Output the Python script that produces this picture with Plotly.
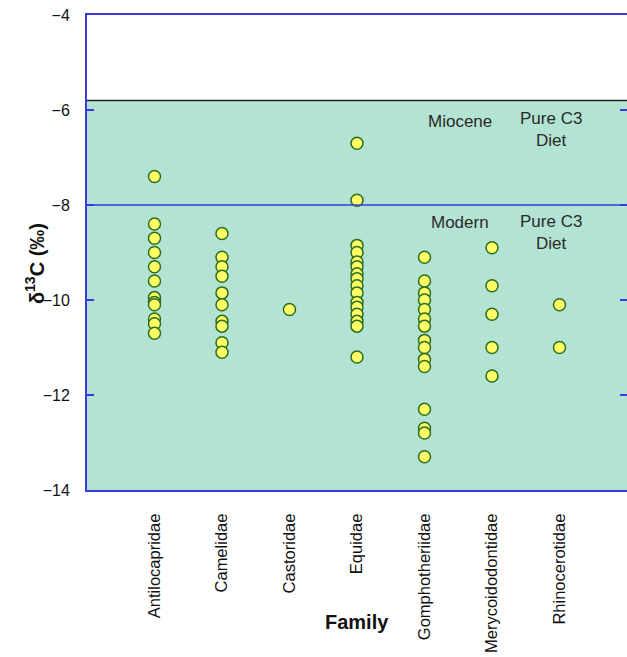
import plotly.graph_objects as go

families = ["Antilocapridae", "Camelidae", "Castoridae", "Equidae",
            "Gomphotheriidae", "Merycoidodontidae", "Rhinocerotidae"]

antilocapridae = [-7.4, -8.4, -8.7, -9.0, -9.3, -9.6, -9.95, -10.05, -10.1, -10.4, -10.5, -10.7]
camelidae = [-8.6, -9.1, -9.3, -9.5, -9.85, -10.1, -10.45, -10.55, -10.9, -11.1]
castoridae = [-10.2]
equidae = [-6.7, -7.9, -8.85, -9.0, -9.2, -9.3, -9.45, -9.55, -9.7, -9.85, -10.05,
           -10.15, -10.3, -10.45, -10.55, -11.2]
gomphotheriidae = [-9.1, -9.6, -9.85, -10.0, -10.2, -10.4, -10.55, -10.85, -11.0,
                   -11.25, -11.4, -12.3, -12.7, -12.8, -13.3]
merycoidodontidae = [-8.9, -9.7, -10.3, -11.0, -11.6]
rhinocerotidae = [-10.1, -11.0]

series = [antilocapridae, camelidae, castoridae, equidae,
          gomphotheriidae, merycoidodontidae, rhinocerotidae]

miocene_limit = -5.8
modern_limit = -8.0
y_ticks = [-4, -6, -8, -10, -12, -14]

xs, ys = [], []
for i, vals in enumerate(series):
    for v in vals:
        xs.append(i + 1)
        ys.append(v)

fig = go.Figure()
fig.add_trace(go.Scatter(
    x=xs, y=ys, mode="markers",
    marker=dict(size=12, color="#ffff66", line=dict(color="#2d6e1e", width=1.5)),
    showlegend=False, cliponaxis=False,
))

blue = "#3a3adf"
# shaded Pure C3 region
fig.add_shape(type="rect", xref="x", yref="y", x0=0, x1=8, y0=-14, y1=miocene_limit,
              fillcolor="#b3e3d2", line=dict(width=0), layer="below")
fig.add_shape(type="line", xref="x", yref="y", x0=0, x1=8, y0=miocene_limit, y1=miocene_limit,
              line=dict(color="#222222", width=1.5))
fig.add_shape(type="line", xref="x", yref="y", x0=0, x1=8, y0=modern_limit, y1=modern_limit,
              line=dict(color=blue, width=1.5))

font_txt = dict(family="Liberation Sans, Arial, sans-serif", size=17, color="#2a2a2a")
fig.add_annotation(x=5.53, y=-6.25, text="Miocene", showarrow=False, font=font_txt)
fig.add_annotation(x=6.88, y=-6.42, text="Pure C3<br>Diet", showarrow=False, font=font_txt)
fig.add_annotation(x=5.52, y=-8.36, text="Modern", showarrow=False, font=font_txt)
fig.add_annotation(x=6.88, y=-8.57, text="Pure C3<br>Diet", showarrow=False, font=font_txt)

# axis titles
fig.add_annotation(xref="paper", yref="paper", x=0.5, y=-0.278, yanchor="middle",
                   text="<b>Family</b>", showarrow=False,
                   font=dict(family="Liberation Sans, Arial, sans-serif", size=20, color="#111111"))
fig.add_annotation(xref="paper", yref="paper", x=-0.096, y=0.476, textangle=-90,
                   xanchor="center", yanchor="middle",
                   text="<b>δ<sup>13</sup>C (‰)</b>", showarrow=False,
                   font=dict(family="Liberation Sans, Arial, sans-serif", size=20, color="#111111"))

fig.update_layout(
    width=627, height=657,
    margin=dict(l=87, r=0, t=15, b=167),
    paper_bgcolor="white", plot_bgcolor="white",
    font=dict(family="Liberation Sans, Arial, sans-serif", color="#111111"),
    xaxis=dict(
        range=[0, 8], tickmode="array", tickvals=list(range(1, 8)), ticktext=families,
        tickangle=-90, showgrid=False, zeroline=False, automargin=False,
        showline=True, linecolor=blue, linewidth=2, mirror=True,
        ticks="", ticklabelstandoff=15, ticklabeloverflow="allow",
        tickfont=dict(size=16.5, color="#111111"),
    ),
    yaxis=dict(
        range=[-14, -4], tickmode="array", tickvals=y_ticks,
        showgrid=False, zeroline=False, automargin=False,
        showline=True, linecolor=blue, linewidth=2, mirror="ticks",
        ticks="inside", ticklen=7, tickcolor=blue, tickwidth=2,
        ticklabelstandoff=12, ticklabeloverflow="allow",
        tickfont=dict(size=16, color="#111111"),
    ),
)

fig.write_html(
    "out.html",
    config={"displayModeBar": False},
    post_script="document.body.style.margin='0';document.body.style.overflow='hidden';",
)
